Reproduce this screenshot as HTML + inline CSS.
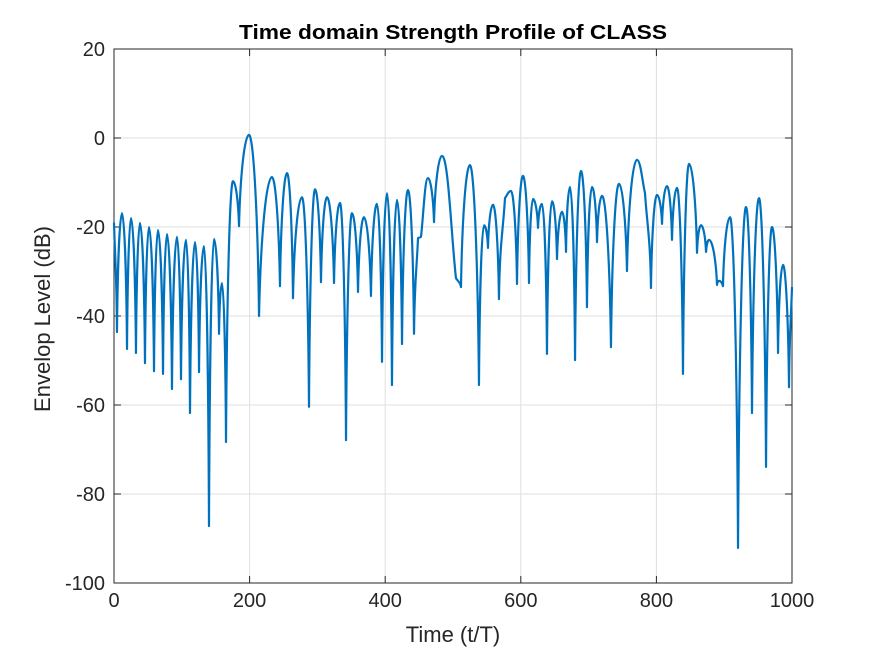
<!DOCTYPE html>
<html><head><meta charset="utf-8"><style>
body{margin:0;background:#fff;font-family:"Liberation Sans",Arial,sans-serif}
</style></head><body>
<svg id="chart" width="875" height="656" xmlns="http://www.w3.org/2000/svg" font-family="Liberation Sans, Arial, sans-serif">
<rect width="875" height="656" fill="#fff"/>
<g id="grid"></g><g id="axes"></g><g id="series"></g>
<text x="453" y="39" text-anchor="middle" font-size="20" font-weight="bold" fill="#000" textLength="428" lengthAdjust="spacingAndGlyphs">Time domain Strength Profile of CLASS</text>
<text x="453" y="642" text-anchor="middle" font-size="22" fill="#262626">Time (t/T)</text>
<text transform="translate(50,319) rotate(-90)" text-anchor="middle" font-size="22" fill="#262626">Envelop Level (dB)</text>
</svg>
<script>
const xTicks=[0,200,400,600,800,1000];
const yTicks=[20,0,-20,-40,-60,-80,-100];
const times=[0,4.4,11.8,19.2,25.1,32.4,38.3,45.7,51.6,59,64.9,72.3,78.2,85.5,92.9,98.8,106.2,112.1,119.5,125.4,132.7,140.1,147.5,154.9,159.3,165.2,175.5,184.4,199.1,213.9,233,244.8,255.2,264,277.3,287.6,296.5,305.3,314.2,324.5,333.3,342.2,351,359.9,368.7,379,387.9,395.3,402.7,410,417.4,424.8,433.6,442.5,448.4,452.8,463.1,472,483.8,504.4,511.8,525,538.3,545.7,551.6,559,567.8,576.7,585.5,594.4,603.2,612.1,618,625.4,631.3,638.6,646,653.4,660.8,666.7,672.6,680,688.8,697.6,705,712.4,719.8,733,744.8,756.6,771.4,783.2,792,800.9,808.3,815.6,823,830.4,839.2,848.1,859.9,865.8,873.2,877.6,889.4,892.3,898.2,908.6,920.4,932.2,941,951.3,961.7,970.5,979.4,986.7,995.6,1000];
const levels=[-19,-43.6,-16.9,-47.4,-18,-48.3,-19.1,-50.6,-20,-52.4,-20.7,-53,-21.6,-56.4,-22.2,-54.2,-22.9,-61.8,-23.4,-52.6,-24.3,-87.2,-22.7,-44,-32.6,-68.3,-9.7,-19.8,0.7,-40,-8.8,-33.3,-7.9,-36,-13.3,-60.4,-11.5,-32.4,-13.3,-32.6,-14.6,-67.9,-16.9,-34.6,-17.8,-35.5,-14.8,-50.3,-12.4,-55.5,-13.9,-46.3,-11.7,-44,-22.5,-22.2,-9,-18.9,-4,-31.5,-33.5,-6.1,-55.5,-19.6,-24.7,-15,-36.2,-13.5,-11.9,-32.8,-8.5,-32.6,-13.7,-20.2,-14.8,-48.5,-14.2,-27.2,-16.6,-25.6,-11,-49.9,-7.4,-38,-11,-23.4,-13,-47,-10.3,-29.9,-4.9,-12.4,-33.7,-12.8,-19.3,-10.8,-22.9,-11.2,-53,-5.8,-25.8,-19.6,-25.6,-22.9,-33,-32.1,-33.3,-17.8,-92.1,-15.5,-61.8,-13.5,-73.9,-20,-48.3,-28.5,-56,-33.5];
const NS="http://www.w3.org/2000/svg";
const X0=114,X1=792,Y0=49,Y1=583;
const xs=v=>X0+(v-0)/1000*(X1-X0);
const ys=v=>Y0+(20-v)/120*(Y1-Y0);
function mk(tag,attrs,parent){const e=document.createElementNS(NS,tag);for(const k in attrs)e.setAttribute(k,attrs[k]);parent.appendChild(e);return e;}
const grid=document.getElementById('grid'),axes=document.getElementById('axes'),series=document.getElementById('series');
mk('rect',{x:X0,y:Y0,width:X1-X0,height:Y1-Y0,fill:'#fff'},grid);
xTicks.forEach(t=>{
 const g=mk('line',{x1:xs(t),x2:xs(t),y1:Y0,y2:Y1,stroke:'#dfdfdf','stroke-width':1},grid);
 
 
 mk('line',{x1:xs(t),x2:xs(t),y1:Y1,y2:Y1-7,stroke:'#262626'},axes);
 mk('line',{x1:xs(t),x2:xs(t),y1:Y0,y2:Y0+7,stroke:'#262626'},axes);
 const l=mk('text',{x:xs(t),y:Y1+24,'text-anchor':'middle','font-size':20,fill:'#262626'},axes);
 l.textContent=t;
 
 
});
yTicks.forEach(t=>{
 const g=mk('line',{x1:X0,x2:X1,y1:ys(t),y2:ys(t),stroke:'#dfdfdf','stroke-width':1},grid);
 
 
 mk('line',{x1:X0,x2:X0+7,y1:ys(t),y2:ys(t),stroke:'#262626'},axes);
 mk('line',{x1:X1,x2:X1-7,y1:ys(t),y2:ys(t),stroke:'#262626'},axes);
 const l=mk('text',{x:X0-9,y:ys(t)+7,'text-anchor':'end','font-size':20,fill:'#262626'},axes);
 l.textContent=t;
 
 
});
const box=mk('rect',{x:X0,y:Y0,width:X1-X0,height:Y1-Y0,fill:'none',stroke:'#262626','stroke-width':1},axes);


const P=times.map((t,i)=>[xs(t),ys(levels[i])]);
const type=levels.map((v,i)=>{const a=levels[i-1],b=levels[i+1];if(a===undefined||b===undefined)return 'e';if(v>=a&&v>=b)return 'p';if(v<=a&&v<=b)return 't';return 'm';});
function ctrl(i,j){const A=P[i],B=P[j],dx=B[0]-A[0],dy=B[1]-A[1];
 if(type[i]==='p')return [A[0]+dx*0.45,A[1]];
 if(type[i]==='t')return [A[0]+dx*0.12,A[1]+dy*0.55];
 return [A[0]+dx*0.33,A[1]+dy*0.33];}
let d=`M${P[0][0]},${P[0][1]}`;
for(let i=0;i<P.length-1;i++){const c1=ctrl(i,i+1),c2=ctrl(i+1,i);d+=` C${c1[0]},${c1[1]} ${c2[0]},${c2[1]} ${P[i+1][0]},${P[i+1][1]}`;}
const path=mk('path',{d:d,fill:'none',stroke:'#0072bd','stroke-width':2.2,'stroke-linejoin':'round'},series);


</script>
</body></html>
